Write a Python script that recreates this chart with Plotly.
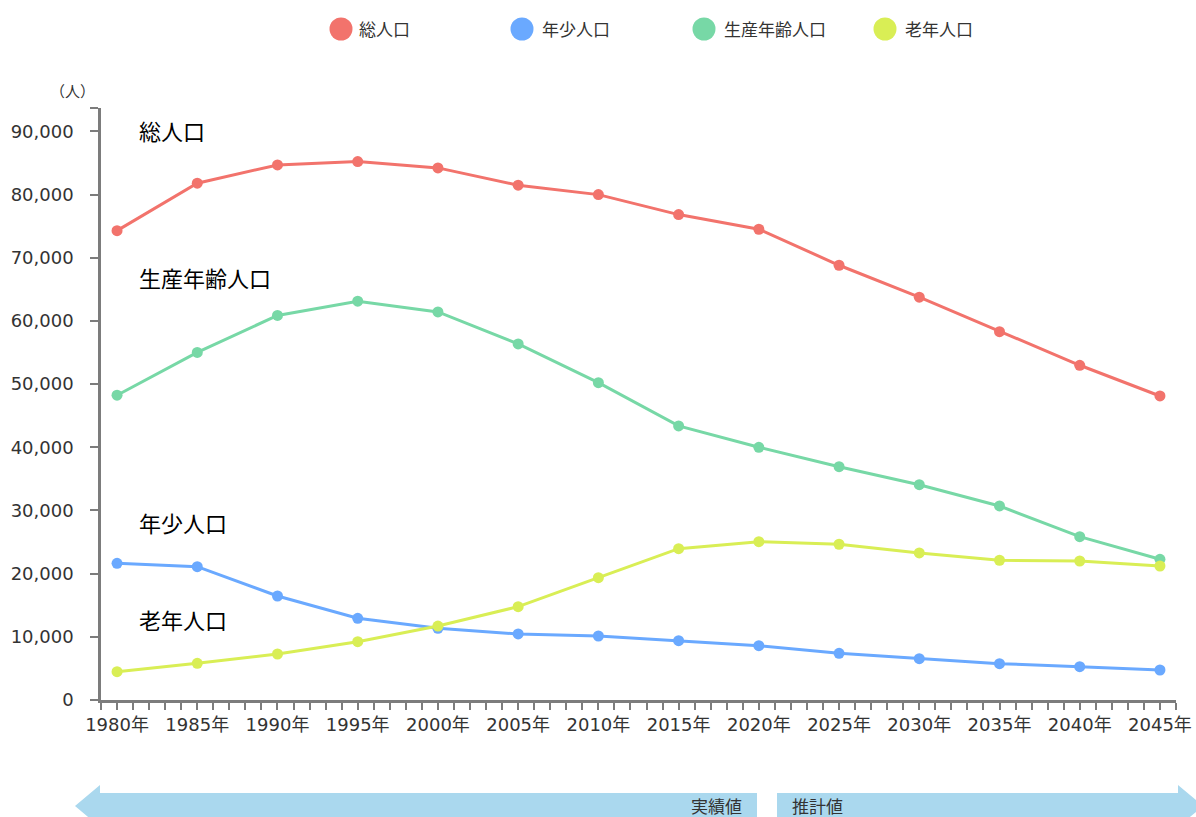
import plotly.graph_objects as go

# ---- data ----
years = [1980, 1985, 1990, 1995, 2000, 2005, 2010, 2015, 2020, 2025, 2030, 2035, 2040, 2045]
total = [74290, 81800, 84690, 85220, 84220, 81480, 79990, 76830, 74510, 68810, 63750, 58300, 52980, 48120]
young = [21640, 21100, 16460, 12930, 11350, 10450, 10130, 9390, 8600, 7390, 6540, 5750, 5270, 4750]
working = [48240, 55010, 60870, 63120, 61420, 56360, 50230, 43380, 40000, 36930, 34080, 30710, 25850, 22270]
elderly = [4480, 5810, 7280, 9230, 11710, 14770, 19360, 23950, 25060, 24650, 23270, 22120, 22000, 21210]

series_names = ["総人口", "年少人口", "生産年齢人口", "老年人口"]
series_values = [total, young, working, elderly]
series_colors = ["#F2736C", "#6AA9FF", "#77D8A6", "#D9EE55"]

x_tick_years = list(range(1979, 2047))
x_tick_text = [f"{y}年" if y % 5 == 0 else "" for y in x_tick_years]
y_tick_vals = [0, 10000, 20000, 30000, 40000, 50000, 60000, 70000, 80000, 90000, 93700]
y_tick_text = [f"{v:,}" if v % 10000 == 0 else "" for v in y_tick_vals]

unit_label = "（人）"
actual_label = "実績値"
forecast_label = "推計値"

# ---- layout helpers (pixel -> paper) ----
W, H = 1196, 817
ML, MR, MT, MB = 101, 20, 108, 117
PW, PH = W - ML - MR, H - MT - MB


def px(x):
    return (x - ML) / PW


def py(y):
    return (H - MB - y) / PH


FONT = "Noto Sans CJK JP, Noto Sans, sans-serif"
TICKFONT = "DejaVu Sans, Noto Sans CJK JP, sans-serif"

fig = go.Figure()
for name, vals, col in zip(series_names, series_values, series_colors):
    fig.add_trace(go.Scatter(
        x=years, y=vals, name=name, mode="lines+markers",
        line=dict(color=col, width=3),
        marker=dict(color=col, size=11),
        showlegend=False,
    ))

shapes = []
annotations = []

# custom legend
legend_circle_x = [341, 522, 704, 885]
legend_text_x = [357, 540, 722, 903]
for name, col, cx, tx in zip(series_names, series_colors, legend_circle_x, legend_text_x):
    r = 11.5
    shapes.append(dict(type="circle", xref="paper", yref="paper",
                       x0=px(cx - r), x1=px(cx + r), y0=py(29 + r), y1=py(29 - r),
                       fillcolor=col, line=dict(width=0)))
    annotations.append(dict(text=name, xref="paper", yref="paper", x=px(tx), y=py(29),
                            xanchor="left", yanchor="middle", showarrow=False,
                            font=dict(size=17, color="#333333", family=FONT)))

# series labels inside the chart
label_pos = {"総人口": 130, "生産年齢人口": 277, "年少人口": 521.5, "老年人口": 619}
for name, yy in label_pos.items():
    annotations.append(dict(text=name, xref="paper", yref="paper", x=px(137), y=py(yy),
                            xanchor="left", yanchor="middle", showarrow=False,
                            font=dict(size=22, color="#000000", family=FONT)))

# unit label
annotations.append(dict(text=unit_label, xref="paper", yref="paper", x=px(72.5), y=py(90.5),
                        xanchor="center", yanchor="middle", showarrow=False,
                        font=dict(size=15, color="#333333", family=FONT)))

# bottom arrows
arrow_col = "#AAD8EE"


def path(points):
    return "M " + " L ".join(f"{px(a):.5f},{py(b):.5f}" for a, b in points) + " Z"


left_arrow = [(75, 806), (100, 785), (100, 793), (757, 793), (757, 819), (100, 819), (100, 827)]
right_arrow = [(777, 793), (1178, 793), (1178, 785), (1203, 806), (1178, 827), (1178, 819), (777, 819)]
for pts in (left_arrow, right_arrow):
    shapes.append(dict(type="path", xref="paper", yref="paper", path=path(pts),
                       fillcolor=arrow_col, line=dict(width=0), layer="below"))

annotations.append(dict(text=actual_label, xref="paper", yref="paper", x=px(744), y=py(805),
                        xanchor="right", yanchor="middle", showarrow=False,
                        font=dict(size=17, color="#333333", family=FONT)))
annotations.append(dict(text=forecast_label, xref="paper", yref="paper", x=px(790), y=py(805),
                        xanchor="left", yanchor="middle", showarrow=False,
                        font=dict(size=17, color="#333333", family=FONT)))

axis_col = "#7C7C7C"
fig.update_layout(
    width=W, height=H,
    margin=dict(l=ML, r=MR, t=MT, b=MB, autoexpand=False),
    paper_bgcolor="white", plot_bgcolor="white",
    font=dict(family=FONT, color="#333333"),
    shapes=shapes, annotations=annotations,
    xaxis=dict(
        range=[1979, 2046], tickmode="array", tickvals=x_tick_years, ticktext=x_tick_text,
        ticks="outside", ticklen=7, tickwidth=1.5, tickcolor=axis_col,
        showline=True, linecolor=axis_col, linewidth=2.5, showgrid=False, zeroline=False,
        tickfont=dict(size=18, color="#333333", family=TICKFONT),
    ),
    yaxis=dict(
        range=[0, 93700], tickmode="array", tickvals=y_tick_vals, ticktext=y_tick_text,
        ticks="outside", ticklen=8, tickwidth=1.5, tickcolor=axis_col,
        showline=True, linecolor=axis_col, linewidth=2.5, showgrid=False, zeroline=False,
        ticklabelstandoff=13,
        tickfont=dict(size=18, color="#333333", family=TICKFONT),
    ),
    hovermode=False,
)

fig.write_html("out.html")
